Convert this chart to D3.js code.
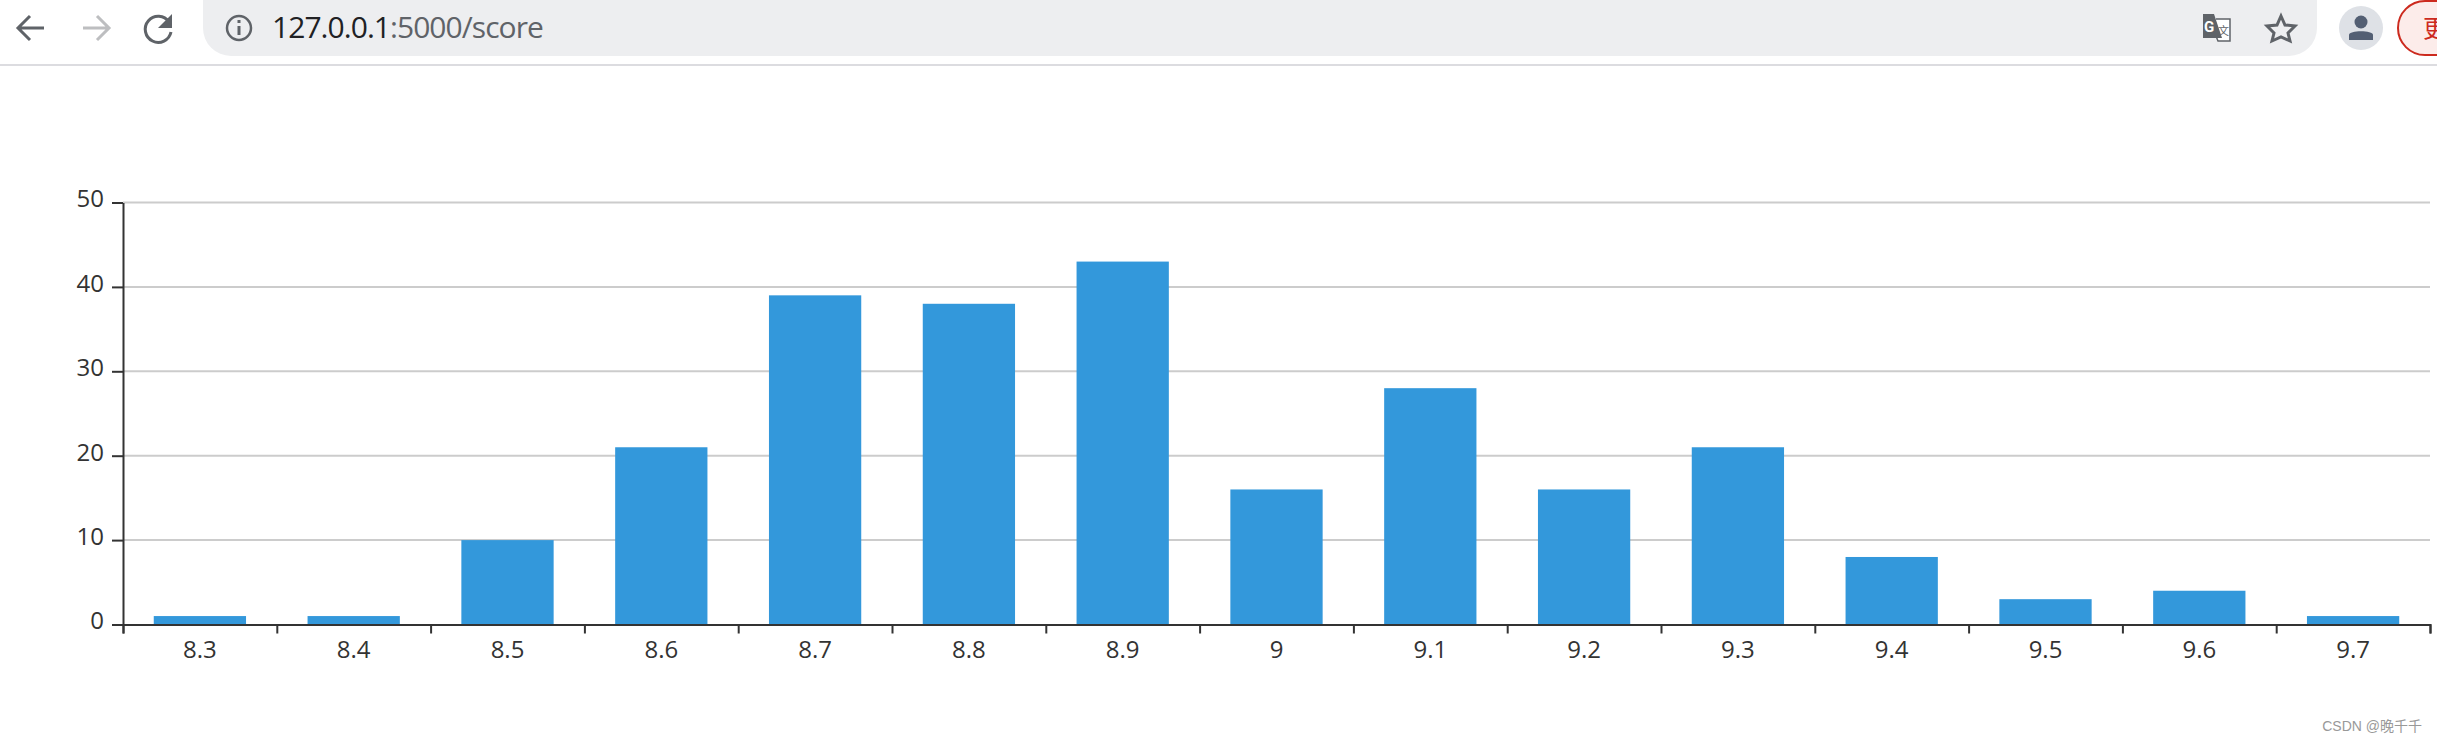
<!DOCTYPE html>
<html>

<head>
    <meta charset="utf-8">
    <script src="https://d3js.org/d3.v7.min.js"></script>
    <style>
        html, body {
            margin: 0;
            padding: 0;
            background: #fff;
            overflow: hidden;
        }

        svg {
            display: block;
        }

        .tick text {
            font-family: 'Open Sans', sans-serif;
            font-size: 24px;
            fill: #333;
        }
    </style>
</head>

<body>
    <svg width="2437" height="741"></svg>
</body>

<script>
    let categories = ["8.3", "8.4", "8.5", "8.6", "8.7", "8.8", "8.9", "9", "9.1", "9.2", "9.3", "9.4", "9.5", "9.6", "9.7"]
    let counts = [1, 1, 10, 21, 39, 38, 43, 16, 28, 16, 21, 8, 3, 4, 1]
    let yTicks = [0, 10, 20, 30, 40, 50]

    let svg = d3.select("svg")

    // --- browser bar ---
    let bar = svg.append("g")

    bar.append("path")
        .attr("d", "M203 0 V28 A28 28 0 0 0 231 56 H2289 A28 28 0 0 0 2317 28 V0 Z")
        .style("fill", "#edeef0")

    bar.append("rect")
        .attr("x", 0).attr("y", 64)
        .attr("width", 2437).attr("height", 2)
        .style("fill", "#dcdce0")

    // back, forward, reload
    bar.append("path")
        .attr("d", "M44 28 H18 M30 16 L18 28 L30 40")
        .style("fill", "none").style("stroke", "#5f6368").style("stroke-width", 3)
    bar.append("path")
        .attr("d", "M83 28 H109 M97 16 L109 28 L97 40")
        .style("fill", "none").style("stroke", "#bdbec0").style("stroke-width", 3)
    bar.append("path")
        .attr("d", "M169 22 A13 13 0 1 0 171 32")
        .style("fill", "none").style("stroke", "#5f6368").style("stroke-width", 3)
    bar.append("path")
        .attr("d", "M172 14 V28 H158 Z")
        .style("fill", "#5f6368")

    // info icon
    bar.append("circle")
        .attr("cx", 239).attr("cy", 28).attr("r", 12)
        .style("fill", "none").style("stroke", "#5f6368").style("stroke-width", 2.5)
    bar.append("path")
        .attr("d", "M239 26 V35 M239 20 V23")
        .style("fill", "none").style("stroke", "#5f6368").style("stroke-width", 3)

    // url
    let url = bar.append("text")
        .attr("x", 272).attr("y", 38)
        .style("font-family", "'Open Sans', sans-serif")
        .style("font-size", "30px")
        .style("letter-spacing", "-0.95px")
    url.append("tspan").style("fill", "#202124").text("127.0.0.1")
    url.append("tspan").style("fill", "#5f6368").text(":5000/score")

    // translate icon
    bar.append("path")
        .attr("d", "M2216 19 H2230 V41 H2218 L2216 36")
        .style("fill", "#fff").style("stroke", "#5f6368").style("stroke-width", 1.5)
    bar.append("path")
        .attr("d", "M2203 14 H2214 L2222 38 H2203 Z")
        .style("fill", "#5f6368")
    bar.append("text")
        .attr("x", 2204).attr("y", 32)
        .style("font-family", "Roboto, sans-serif").style("font-weight", 700)
        .style("font-size", "15px").style("fill", "#fff")
        .text("G")
    bar.append("text")
        .attr("x", 2218).attr("y", 35)
        .style("font-family", "'Noto Sans CJK SC'")
        .style("font-size", "11px").style("fill", "#5f6368")
        .text("文")

    // star
    bar.append("path")
        .attr("d", "M2281 16 L2285 25 L2295 26 L2288 33 L2290 41 L2281 37 L2272 41 L2274 33 L2267 26 L2277 25 Z")
        .style("fill", "none").style("stroke", "#5f6368").style("stroke-width", 3)

    // profile
    bar.append("circle")
        .attr("cx", 2361).attr("cy", 28).attr("r", 22)
        .style("fill", "#dee1e6")
    bar.append("circle")
        .attr("cx", 2361).attr("cy", 22).attr("r", 6.5)
        .style("fill", "#535f73")
    bar.append("path")
        .attr("d", "M2349 40 V35 C2349 30 2373 30 2373 35 V40 Z")
        .style("fill", "#535f73")

    // update button, cut off by the window edge
    bar.append("rect")
        .attr("x", 2398).attr("y", 1)
        .attr("width", 80).attr("height", 54).attr("rx", 27)
        .style("fill", "#fcecea").style("stroke", "#cc2a1e").style("stroke-width", 2)
    bar.append("text")
        .attr("x", 2423).attr("y", 37)
        .style("font-family", "'Noto Sans CJK SC'")
        .style("font-size", "24px").style("fill", "#cc2a1e")
        .text("更")

    // --- chart ---
    let plotLeft = 123
    let plotRight = 2430
    let plotTop = 202.5
    let plotBottom = 624.5

    let x = d3.scaleBand()
        .domain(categories)
        .range([plotLeft, plotRight])
        .paddingInner(0.4)
        .paddingOuter(0.2)

    // only for the tick marks between the bands
    let xEdges = d3.scaleLinear()
        .domain([0, categories.length])
        .range([plotLeft, plotRight])

    let y = d3.scaleLinear()
        .domain([0, 50])
        .range([plotBottom, plotTop])

    // grid
    svg.append("g")
        .selectAll("line")
        .data(yTicks.slice(1))
        .join("line")
        .attr("x1", plotLeft)
        .attr("x2", plotRight)
        .attr("y1", d => y(d))
        .attr("y2", d => y(d))
        .style("stroke", "#ccc")
        .style("stroke-width", 2)

    svg.append("g")
        .selectAll("rect")
        .data(counts)
        .join("rect")
        .attr("x", (d, i) => x(categories[i]))
        .attr("y", d => y(d))
        .attr("width", x.bandwidth())
        .attr("height", d => y(0) - y(d))
        .style("fill", "#3398db")

    let xLabels = svg.append("g")
        .attr("transform", `translate(0,${plotBottom})`)
        .call(d3.axisBottom(x).tickSize(0).tickPadding(16))
    xLabels.select(".domain").remove()

    let xTicks = svg.append("g")
        .attr("transform", `translate(0,${plotBottom})`)
        .call(d3.axisBottom(xEdges).ticks(categories.length).tickSize(9).tickSizeOuter(9).tickFormat(""))
    xTicks.select(".domain").style("stroke", "#333").style("stroke-width", 2)
    xTicks.selectAll("line").style("stroke", "#333").style("stroke-width", 2)

    let yAxis = svg.append("g")
        .attr("transform", `translate(${plotLeft},0)`)
        .call(d3.axisLeft(y).tickValues(yTicks).tickSize(11).tickSizeOuter(0).tickPadding(8))
    yAxis.select(".domain").style("stroke", "#333").style("stroke-width", 2)
    yAxis.selectAll("line").style("stroke", "#333").style("stroke-width", 2)
    yAxis.selectAll("text").attr("dy", "0.18em")

    svg.append("text")
        .attr("x", 2422).attr("y", 731)
        .attr("text-anchor", "end")
        .style("font-family", "'Liberation Sans', 'Noto Sans CJK SC', sans-serif")
        .style("font-size", "14px")
        .style("fill", "#999")
        .text("CSDN @晚千千")
</script>

</html>
